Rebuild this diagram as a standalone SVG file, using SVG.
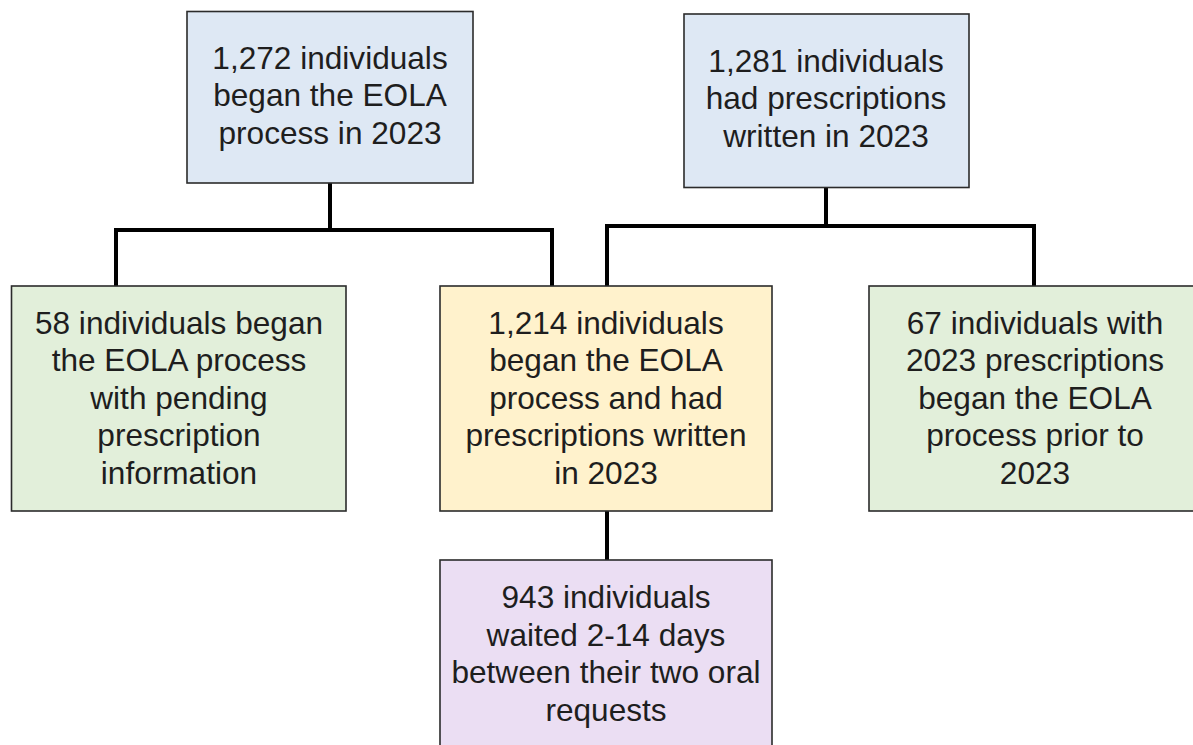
<svg xmlns="http://www.w3.org/2000/svg" width="1193" height="745" viewBox="0 0 1193 745">
<style>
.box{stroke:#2b2b2b;stroke-width:1.6}
.blue{fill:#dee8f4}
.green{fill:#e2efda}
.yellow{fill:#fff2cc}
.purple{fill:#ebdef3}
.conn{fill:none;stroke:#000;stroke-width:4;stroke-linejoin:miter;stroke-linecap:square}
text{font-family:"Liberation Sans",Arial,sans-serif;font-size:31.6px;fill:#1e1e1e;text-anchor:middle}
</style>
<rect width="1193" height="745" fill="#fff"/>
<g id="connectors">
<path class="conn" d="M330,184 V230 M116,230 H552 M116,230 V286 M552,230 V286"/>
<path class="conn" d="M826,188 V226 M607,226 H1034 M607,226 V286 M1034,226 V286"/>
<path class="conn" d="M607,512 V560"/>
</g>
<g id="n1">
<rect class="box blue" x="187" y="11.5" width="286" height="171.5"/>
<text x="330" y="68.5">1,272 individuals</text>
<text x="330" y="106">began the EOLA</text>
<text x="330" y="143.5">process in 2023</text>
</g>
<g id="n2">
<rect class="box blue" x="684" y="14" width="285" height="173.5"/>
<text x="826" y="71.5">1,281 individuals</text>
<text x="826" y="109">had prescriptions</text>
<text x="826" y="146.5">written in 2023</text>
</g>
<g id="n3">
<rect class="box green" x="11.5" y="286" width="334.5" height="225"/>
<text x="179" y="333.5">58 individuals began</text>
<text x="179" y="371">the EOLA process</text>
<text x="179" y="408.5">with pending</text>
<text x="179" y="446">prescription</text>
<text x="179" y="483.5">information</text>
</g>
<g id="n4">
<rect class="box yellow" x="440" y="286" width="332" height="225"/>
<text x="606" y="333.5">1,214 individuals</text>
<text x="606" y="371">began the EOLA</text>
<text x="606" y="408.5">process and had</text>
<text x="606" y="446">prescriptions written</text>
<text x="606" y="483.5">in 2023</text>
</g>
<g id="n5">
<rect class="box green" x="869" y="286" width="335" height="225"/>
<text x="1035" y="333.5">67 individuals with</text>
<text x="1035" y="371">2023 prescriptions</text>
<text x="1035" y="408.5">began the EOLA</text>
<text x="1035" y="446">process prior to</text>
<text x="1035" y="483.5">2023</text>
</g>
<g id="n6">
<rect class="box purple" x="440" y="560" width="332" height="225"/>
<text x="606" y="608">943 individuals</text>
<text x="606" y="645.5">waited 2-14 days</text>
<text x="606" y="683">between their two oral</text>
<text x="606" y="720.5">requests</text>
</g>
</svg>
